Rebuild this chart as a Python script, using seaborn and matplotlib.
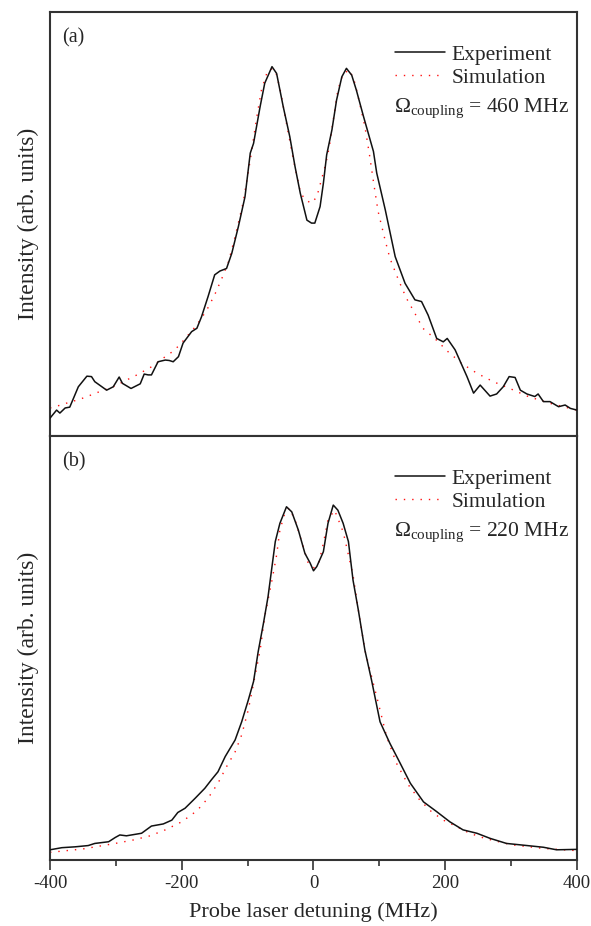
import numpy as np
import pandas as pd
import matplotlib
matplotlib.use("Agg")
import matplotlib.pyplot as plt
import seaborn as sns
from matplotlib.lines import Line2D
from matplotlib.ticker import MultipleLocator

# ---------------- data ----------------
# Panel (a): Omega_coupling = 460 MHz
a_exp_x = [-400, -390, -385, -377, -370, -357, -344, -337, -332, -314, -304, -295, -290,
           -277, -263, -257, -251, -246, -236, -225, -219, -213, -205, -198, -185, -177,
           -170, -160, -150, -142, -132, -124, -114, -104, -96, -91, -81, -74, -63, -56,
           -46, -36, -28, -20, -10, -3, 2, 10, 15, 20, 28, 35, 43, 50, 58, 65, 76, 91, 96,
           109, 124, 139, 154, 164, 174, 187, 197, 203, 215, 233, 243, 253, 268, 278, 288,
           297, 306, 314, 324, 336, 341, 349, 359, 372, 382, 390, 400]
a_exp_y = [0.042, 0.061, 0.054, 0.066, 0.068, 0.116, 0.141, 0.140, 0.128, 0.108, 0.116,
           0.139, 0.124, 0.112, 0.123, 0.146, 0.144, 0.144, 0.175, 0.179, 0.178, 0.175,
           0.187, 0.219, 0.246, 0.254, 0.281, 0.329, 0.380, 0.389, 0.395, 0.431, 0.494,
           0.564, 0.667, 0.690, 0.777, 0.832, 0.871, 0.855, 0.777, 0.706, 0.635, 0.572,
           0.509, 0.502, 0.502, 0.541, 0.596, 0.663, 0.722, 0.792, 0.847, 0.867, 0.851,
           0.816, 0.753, 0.671, 0.620, 0.533, 0.423, 0.360, 0.321, 0.317, 0.285, 0.230,
           0.222, 0.230, 0.203, 0.140, 0.101, 0.120, 0.094, 0.099, 0.116, 0.140, 0.138,
           0.108, 0.099, 0.093, 0.099, 0.081, 0.081, 0.069, 0.073, 0.065, 0.061]
a_sim_x = [-400, -392, -380, -354, -342, -329, -304, -281, -268, -246, -225, -213, -203,
           -177, -162, -150, -139, -129, -119, -107, -96, -86, -79, -71, -65, -58, -51,
           -41, -31, -20, -13, -3, 5, 12, 19, 24, 30, 37, 45, 55, 63, 70, 78, 85, 91, 98,
           109, 116, 129, 141, 154, 166, 184, 204, 225, 248, 273, 298, 326, 359, 400]
a_sim_y = [0.066, 0.069, 0.075, 0.087, 0.094, 0.102, 0.116, 0.134, 0.144, 0.163, 0.187,
           0.200, 0.215, 0.262, 0.297, 0.333, 0.372, 0.411, 0.470, 0.549, 0.651, 0.753,
           0.816, 0.855, 0.866, 0.863, 0.820, 0.737, 0.655, 0.576, 0.557, 0.549, 0.564,
           0.604, 0.644, 0.682, 0.745, 0.816, 0.855, 0.863, 0.832, 0.785, 0.730, 0.663,
           0.600, 0.530, 0.460, 0.419, 0.368, 0.325, 0.289, 0.254, 0.230, 0.199, 0.171,
           0.148, 0.128, 0.112, 0.093, 0.077, 0.061]

# Panel (b): Omega_coupling = 220 MHz
b_exp_x = [-400, -382, -362, -342, -332, -311, -301, -294, -284, -261, -246, -228, -215,
           -206, -195, -180, -165, -155, -145, -134, -119, -109, -99, -91, -84, -76, -69,
           -58, -51, -41, -33, -23, -13, -5, 0, 5, 15, 22, 30, 37, 45, 53, 60, 68, 78, 88,
           101, 116, 129, 147, 167, 187, 207, 227, 248, 268, 293, 318, 349, 369, 400]
b_exp_y = [0.024, 0.029, 0.031, 0.034, 0.039, 0.043, 0.053, 0.059, 0.057, 0.063, 0.080,
           0.085, 0.094, 0.112, 0.122, 0.145, 0.169, 0.189, 0.208, 0.244, 0.283, 0.326,
           0.377, 0.421, 0.491, 0.558, 0.621, 0.751, 0.794, 0.833, 0.821, 0.778, 0.723,
           0.700, 0.682, 0.692, 0.727, 0.794, 0.837, 0.825, 0.794, 0.751, 0.660, 0.590,
           0.495, 0.425, 0.326, 0.275, 0.236, 0.181, 0.137, 0.114, 0.090, 0.071, 0.063,
           0.051, 0.039, 0.035, 0.030, 0.024, 0.025]
b_sim_x = [-400, -350, -301, -274, -248, -225, -200, -177, -160, -145, -132, -119, -109,
           -99, -89, -81, -74, -63, -56, -51, -43, -37, -28, -18, -8, 1, 8, 15, 22, 32,
           45, 60, 68, 78, 96, 111, 126, 144, 161, 179, 197, 217, 237, 260, 300, 350, 400]
b_sim_y = [0.018, 0.026, 0.039, 0.047, 0.057, 0.071, 0.090, 0.116, 0.146, 0.181, 0.220,
           0.255, 0.295, 0.354, 0.432, 0.495, 0.574, 0.660, 0.719, 0.778, 0.821, 0.830,
           0.802, 0.751, 0.700, 0.689, 0.700, 0.747, 0.802, 0.825, 0.774, 0.672, 0.590,
           0.495, 0.385, 0.291, 0.228, 0.177, 0.142, 0.114, 0.094, 0.079, 0.063, 0.051,
           0.036, 0.027, 0.022]

panel_labels = ["(a)", "(b)"]
omega_values = ["460", "220"]
legend_labels = ["Experiment", "Simulation"]
x_ticks = [-400, -200, 0, 200, 400]
x_label = "Probe laser detuning (MHz)"
y_label = "Intensity (arb. units)"

# ---------------- style ----------------
sns.set_theme(style="white")
plt.rcParams["font.family"] = ["Liberation Serif", "DejaVu Serif"]
plt.rcParams["mathtext.fontset"] = "custom"
plt.rcParams["mathtext.rm"] = "Liberation Serif"
plt.rcParams["mathtext.it"] = "Liberation Serif:italic"
plt.rcParams["mathtext.bf"] = "Liberation Serif:bold"

EXP_COLOR = "#111111"
SIM_COLOR = "#ff1010"
SIM_DASH = (0, (1, 5))
SPINE_COLOR = "#333333"

fig = plt.figure(figsize=(5.91, 9.26), dpi=100)
ax1 = fig.add_axes([0.0846, 0.5292, 0.8917, 0.4579])
ax2 = fig.add_axes([0.0846, 0.0713, 0.8917, 0.4579])

panels = [
    (ax1, a_exp_x, a_exp_y, a_sim_x, a_sim_y),
    (ax2, b_exp_x, b_exp_y, b_sim_x, b_sim_y),
]

for i, (ax, ex, ey, sx, sy) in enumerate(panels):
    df_exp = pd.DataFrame({"detuning": ex, "intensity": ey})
    df_sim = pd.DataFrame({"detuning": sx, "intensity": sy})
    sns.lineplot(data=df_sim, x="detuning", y="intensity", ax=ax, color=SIM_COLOR,
                 linewidth=1.0, linestyle=SIM_DASH, legend=False, zorder=2)
    sns.lineplot(data=df_exp, x="detuning", y="intensity", ax=ax, color=EXP_COLOR,
                 linewidth=1.1, legend=False, zorder=3)
    ax.set_xlim(-400, 400)
    ax.set_ylim(0, 1)
    ax.set_yticks([])
    ax.set_ylabel(y_label, fontsize=17, labelpad=8)
    for sp in ax.spines.values():
        sp.set_color(SPINE_COLOR)
        sp.set_linewidth(1.5)
        sp.set_visible(True)

    handles = [Line2D([], [], color=EXP_COLOR, lw=1.1),
               Line2D([], [], color=SIM_COLOR, lw=1.0, linestyle=SIM_DASH)]
    ax.legend(handles, legend_labels, loc="center left", bbox_to_anchor=(0.655, 0.872),
              frameon=False, fontsize=15.5, handlelength=2.33, handletextpad=0.28,
              labelspacing=0.15, borderpad=0, borderaxespad=0)
    ax.text(0.652, 0.763, r"$\Omega_{\mathrm{coupling}}$" + f" = {omega_values[i]} MHz",
            transform=ax.transAxes, fontsize=15.5, ha="left", va="baseline")
    ax.text(0.023, 0.962, panel_labels[i], transform=ax.transAxes, fontsize=14.5,
            ha="left", va="top")

ax1.set_xlabel("")
ax1.set_xticks([])
ax1.tick_params(bottom=False, labelbottom=False)

ax2.set_xticks(x_ticks)
ax2.set_xticklabels([str(t) for t in x_ticks], fontsize=13.5)
ax2.xaxis.set_minor_locator(MultipleLocator(100))
ax2.tick_params(axis="x", which="major", direction="out", length=7, width=1.2,
                color=SPINE_COLOR, bottom=True, pad=4)
ax2.tick_params(axis="x", which="minor", direction="out", length=4, width=1.2,
                color=SPINE_COLOR, bottom=True)
ax2.set_xlabel(x_label, fontsize=16, labelpad=7)

fig.savefig("out.png", dpi=100)
